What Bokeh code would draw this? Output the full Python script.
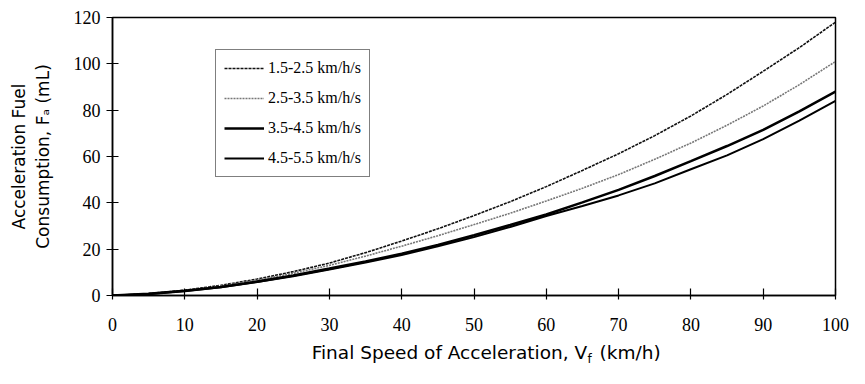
from bokeh.plotting import figure
from bokeh.models import Legend, LegendItem, Range1d, FixedTicker, LinearAxis
from bokeh.embed import file_html
from bokeh.resources import INLINE

speed = [0, 5, 10, 15, 20, 25, 30, 35, 40, 45, 50, 55, 60, 65, 70, 75, 80, 85, 90, 95, 100]
fuel_15_25 = [0, 0.8, 2.3, 4.4, 7.1, 10.3, 14, 18.5, 23.5, 28.8, 34.5, 40.5, 47, 54, 61.2, 69, 77.5, 86.8, 96.8, 107, 118]
fuel_25_35 = [0, 0.8, 2.1, 4.1, 6.6, 9.6, 13, 17, 21.3, 25.8, 30.6, 35.5, 40.8, 46.3, 52.2, 58.8, 65.8, 73.5, 81.8, 91, 101]
fuel_35_45 = [0, 0.7, 2.0, 3.7, 6.0, 8.6, 11.6, 14.7, 18, 21.8, 26, 30.4, 35, 40.2, 45.6, 51.6, 58, 64.5, 71.5, 79.5, 88]
fuel_45_55 = [0, 0.7, 1.9, 3.6, 5.8, 8.3, 11.2, 14.2, 17.5, 21.2, 25.2, 29.6, 34.3, 38.6, 43.2, 48.4, 54.5, 60.5, 67.5, 75.5, 84]
series_labels = ["1.5-2.5 km/h/s", "2.5-3.5 km/h/s", "3.5-4.5 km/h/s", "4.5-5.5 km/h/s"]
x_ticks = [0, 10, 20, 30, 40, 50, 60, 70, 80, 90, 100]
y_ticks = [0, 20, 40, 60, 80, 100, 120]
y_title = "Acceleration Fuel\nConsumption, F\u2090 (mL)"
x_title_main = "Final Speed of Acceleration, V"
x_title_sub = "f"
x_title_unit = "(km/h)"
# where (along the x axis) the pieces of the x title are centred
x_title_main_at = 46.6
x_title_sub_at = 66.0
x_title_unit_at = 71.6

SERIF = "Liberation Serif"
SANS = "DejaVu Sans"

p = figure(width=849, height=368, output_backend="svg", toolbar_location=None,
           x_range=Range1d(0, 100), y_range=Range1d(0, 120),
           min_border_left=112, min_border_right=14, min_border_top=17, min_border_bottom=20)
p.background_fill_color = "white"
p.border_fill_color = "white"
p.outline_line_color = "black"
p.outline_line_width = 1.5
p.xgrid.visible = False
p.ygrid.visible = False

for ax, ticks in ((p.xaxis, x_ticks), (p.yaxis, y_ticks)):
    ax.ticker = FixedTicker(ticks=ticks)
    ax.minor_tick_line_color = None
    ax.axis_line_color = "black"
    ax.axis_line_width = 1.5
    ax.major_tick_line_color = "black"
    ax.major_tick_line_width = 1.2
    ax.major_label_text_font = SERIF
    ax.major_label_text_font_size = "18px"
    ax.major_label_text_color = "black"

p.xaxis.major_tick_in = 7
p.xaxis.major_tick_out = 4
p.xaxis.major_label_standoff = 18
p.yaxis.major_tick_in = 6
p.yaxis.major_tick_out = 6
p.yaxis.major_label_standoff = 6

p.yaxis.axis_label = y_title
p.yaxis.axis_label_text_font = SANS
p.yaxis.axis_label_text_font_size = "17px"
p.yaxis.axis_label_text_font_style = "normal"
p.yaxis.axis_label_text_color = "black"
p.yaxis.axis_label_standoff = 18


def text_axis(ticks, overrides, size, standoff):
    ax = LinearAxis(ticker=FixedTicker(ticks=ticks), major_label_overrides=overrides)
    ax.axis_line_color = None
    ax.major_tick_line_color = None
    ax.minor_tick_line_color = None
    ax.major_tick_in = 0
    ax.major_tick_out = 0
    ax.major_label_standoff = standoff
    ax.major_label_text_font = SANS
    ax.major_label_text_font_size = size
    ax.major_label_text_color = "black"
    p.add_layout(ax, "below")
    return ax

text_axis([x_title_main_at, x_title_unit_at],
          {x_title_main_at: x_title_main, x_title_unit_at: x_title_unit}, "18.5px", 8)
text_axis([x_title_sub_at], {x_title_sub_at: x_title_sub}, "12px", -14)

r1 = p.line(speed, fuel_15_25, line_color="#111111", line_width=1.6, line_dash="3 1")
r2 = p.line(speed, fuel_25_35, line_color="#777777", line_width=1.6, line_dash="2 1")
r3 = p.line(speed, fuel_35_45, line_color="black", line_width=2.6)
r4 = p.line(speed, fuel_45_55, line_color="black", line_width=2.0)

legend = Legend(items=[LegendItem(label=series_labels[i], renderers=[r]) for i, r in enumerate([r1, r2, r3, r4])],
                location=(103, 118))
legend.border_line_color = "black"
legend.border_line_width = 1.2
legend.background_fill_alpha = 1
legend.label_text_font = SERIF
legend.label_text_font_size = "16px"
legend.label_text_color = "black"
legend.glyph_width = 40
legend.glyph_height = 20
legend.label_height = 20
legend.spacing = 10
legend.padding = 8
legend.margin = 0
legend.label_standoff = 4
p.add_layout(legend, "center")

open("out.html", "w").write(file_html(p, INLINE))
